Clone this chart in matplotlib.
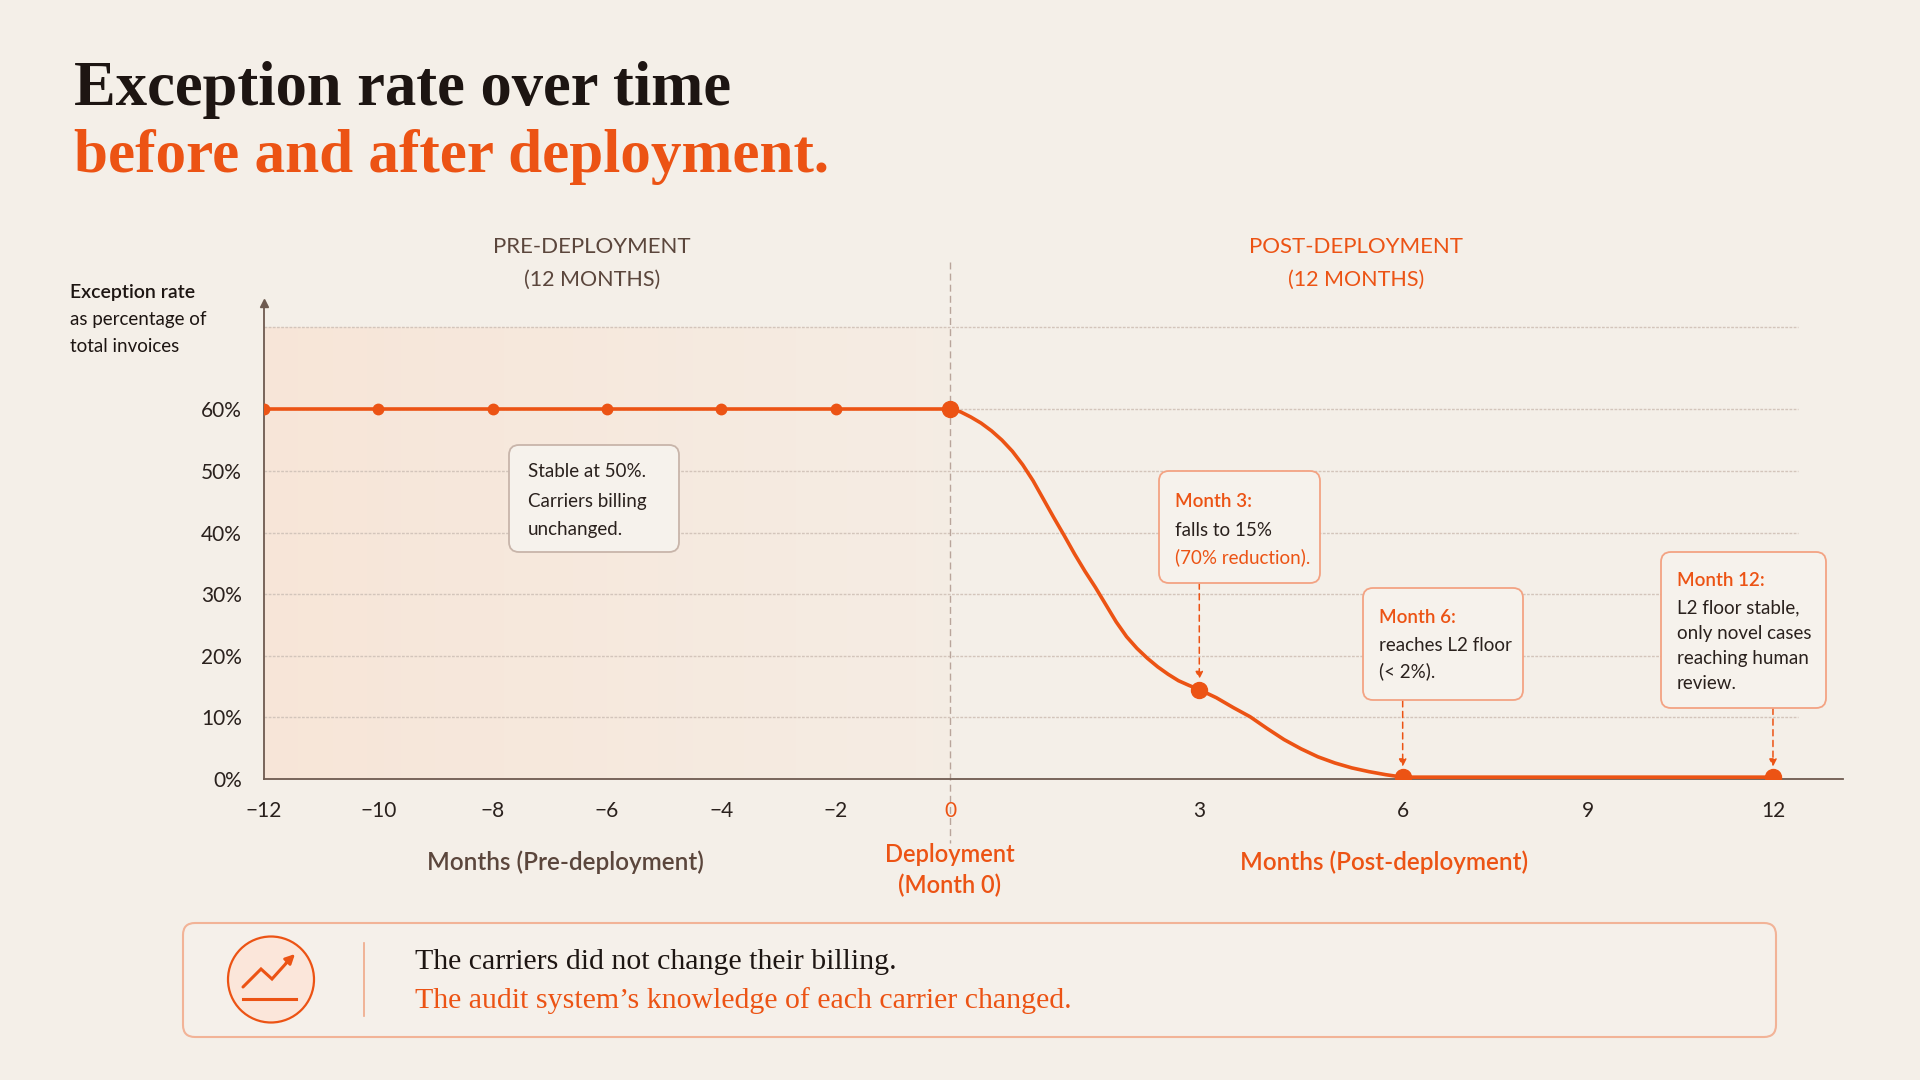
import numpy as np
import matplotlib
matplotlib.use('Agg')
import matplotlib.pyplot as plt
from matplotlib.patches import FancyBboxPatch, Circle

# data
PRE_MONTHS = [-12, -10, -8, -6, -4, -2, 0]
PRE_RATE = [60, 60, 60, 60, 60, 60, 60]

POST_MONTHS = [0, 0.125, 0.25, 0.375, 0.5, 0.625, 0.75, 0.875, 1.0, 1.125, 1.25, 1.375,
               1.5, 1.625, 1.75, 1.875, 2.0, 2.125, 2.25, 2.375, 2.5, 2.625, 2.75, 2.875,
               3.0, 3.125, 3.25, 3.375, 3.5, 3.625, 3.75, 3.875, 4.0, 4.25, 4.5, 4.75,
               5.0, 5.25, 5.5, 5.75, 6.0, 9.0, 12.0]
POST_RATE = [60, 59.6, 58.75, 57.75, 56.5, 55.0, 53.2, 51.0, 48.4, 45.4, 42.4, 39.5,
             36.5, 33.7, 31.1, 28.3, 25.5, 23.1, 21.2, 19.6, 18.2, 17.0, 15.95, 15.2,
             14.5, 13.85, 13.2, 12.4, 11.6, 10.85, 10.1, 9.15, 8.2, 6.4, 4.9, 3.6,
             2.6, 1.8, 1.2, 0.7, 0.3, 0.3, 0.3]

KEY_MONTHS = [0, 3, 6, 12]
KEY_RATE = [60, 14.5, 0.3, 0.3]

X_TICKS = [-12, -10, -8, -6, -4, -2, 0, 3, 6, 9, 12]
X_TICK_LABELS = ['\u221212', '\u221210', '\u22128', '\u22126', '\u22124', '\u22122',
                 '0', '3', '6', '9', '12']
Y_TICKS = [0, 10, 20, 30, 40, 50, 60]
Y_TICK_LABELS = ['0%', '10%', '20%', '30%', '40%', '50%', '60%']
GRID_LEVELS = [10, 20, 30, 40, 50, 60, 73.3]

# colours
BG = '#f4efe8'
ORANGE = '#ec5314'
DARK = '#1d1512'
TEXT = '#2a211d'
BROWN = '#5b463c'
AXIS = '#6e5a50'
GRID = '#d3c5bb'
TINT = '#fcd9c2'

SANS = 'Lato'
SERIF = 'Liberation Serif'

# piecewise month scale: post-deployment months get more room early on
SCALE_M = [-40, -12, 0, 3, 6, 12, 40]
SCALE_P = [-1336.8, 264, 950, 1199.3, 1402.7, 1773, 3502]


def fwd(x):
    return np.interp(x, SCALE_M, SCALE_P)


def inv(p):
    return np.interp(p, SCALE_P, SCALE_M)


fig = plt.figure(figsize=(19.2, 10.8), dpi=100)
fig.patch.set_facecolor(BG)

ax = fig.add_axes([264 / 1920, 1 - 779 / 1080, 1579 / 1920, 476 / 1080])
ax.set_facecolor('none')
ax.set_xscale('function', functions=(fwd, inv))
ax.set_xlim(-12, 13.134)
ax.set_ylim(0, 77.25)

# pre-deployment tint, fading towards month 0
n = 40
edges = np.linspace(-12, 0, n + 1)
for i in range(n):
    a = 0.42 - 0.3 * i / (n - 1)
    ax.fill_between([edges[i], edges[i + 1]], 0, GRID_LEVELS[-1], color=TINT,
                    alpha=a, lw=0, antialiased=False, zorder=0)

ax.hlines(GRID_LEVELS, -12, 12.405, color=GRID, lw=1.0, linestyle=(0, (2, 1)), zorder=1)

# deployment divider
ax.plot([0, 0], [83.95, -10.4], color='#b9a59b', lw=1.0, linestyle=(0, (5, 3)),
        clip_on=False, zorder=1)

ax.plot(PRE_MONTHS, PRE_RATE, color=ORANGE, lw=2.6, marker='o', markersize=7.5,
        solid_capstyle='round', zorder=4)
ax.plot(POST_MONTHS, POST_RATE, color=ORANGE, lw=2.6, solid_joinstyle='round',
        solid_capstyle='round', zorder=4)
ax.plot(KEY_MONTHS, KEY_RATE, 'o', color=ORANGE, markersize=11.5, zorder=5)

# dashed pointers from callouts
for m, r, top in [(3, 14.5, 31.8), (6, 0.3, 12.7), (12, 0.3, 11.47)]:
    ax.annotate('', xy=(m, r), xytext=(m, top),
                arrowprops=dict(arrowstyle='-|>', mutation_scale=11, color=ORANGE,
                                lw=1.1, linestyle=(0, (4, 3)), shrinkA=0, shrinkB=7.5),
                zorder=3)

for s in ['top', 'right']:
    ax.spines[s].set_visible(False)
for s in ['left', 'bottom']:
    ax.spines[s].set_color(AXIS)
    ax.spines[s].set_linewidth(1.3)
ax.plot([0], [1], marker='^', markersize=6, color=AXIS, transform=ax.transAxes,
        clip_on=False)

ax.set_xticks(X_TICKS, X_TICK_LABELS)
ax.set_yticks(Y_TICKS, Y_TICK_LABELS)
ax.xaxis.set_minor_locator(matplotlib.ticker.NullLocator())
ax.tick_params(axis='both', length=0, labelsize=15, labelcolor=TEXT)
ax.tick_params(axis='x', pad=16)
ax.tick_params(axis='y', pad=16)
for lab in ax.get_xticklabels() + ax.get_yticklabels():
    lab.set_fontfamily(SANS)
ax.get_xticklabels()[X_TICKS.index(0)].set_color(ORANGE)

# overlay in pixel units for titles, callouts and footer
ov = fig.add_axes([0, 0, 1, 1], zorder=10)
ov.set_xlim(0, 1920)
ov.set_ylim(1080, 0)
ov.axis('off')
ov.set_facecolor('none')

ov.text(74, 105, 'Exception rate over time', fontsize=45, family=SERIF,
        weight='bold', color=DARK, va='baseline')
ov.text(74, 172, 'before and after deployment.', fontsize=44, family=SERIF,
        weight='bold', color=ORANGE, va='baseline')

ov.text(70, 298, 'Exception rate', fontsize=14, family=SANS, weight='semibold',
        color=DARK, va='baseline')
ov.text(70, 325, 'as percentage of', fontsize=13.5, family=SANS, color=DARK, va='baseline')
ov.text(70, 352, 'total invoices', fontsize=13.5, family=SANS, color=DARK, va='baseline')

ov.text(592, 247, 'PRE-DEPLOYMENT', fontsize=16, family=SANS, color=BROWN,
        ha='center', va='center')
ov.text(592, 280, '(12 MONTHS)', fontsize=15.5, family=SANS, color=BROWN,
        ha='center', va='center')
ov.text(1356, 247, 'POST-DEPLOYMENT', fontsize=16, family=SANS, color=ORANGE,
        ha='center', va='center')
ov.text(1356, 280, '(12 MONTHS)', fontsize=15.5, family=SANS, color=ORANGE,
        ha='center', va='center')

ov.text(565, 862, 'Months (Pre-deployment)', fontsize=17.5, family=SANS,
        weight='semibold', color=BROWN, ha='center', va='center')
ov.text(950, 854, 'Deployment', fontsize=17, family=SANS, weight='semibold',
        color=ORANGE, ha='center', va='center')
ov.text(950, 885, '(Month 0)', fontsize=17, family=SANS, weight='semibold',
        color=ORANGE, ha='center', va='center')
ov.text(1384, 862, 'Months (Post-deployment)', fontsize=17.5, family=SANS,
        weight='semibold', color=ORANGE, ha='center', va='center')


def callout(x, y, w, h, lines, edge):
    ov.add_patch(FancyBboxPatch((x, y), w, h, boxstyle='round,pad=0,rounding_size=10',
                                facecolor='#f6f2ec', edgecolor=edge, lw=1.3, zorder=2))
    for tx, ty, s, c, wt in lines:
        ov.text(tx, ty, s, fontsize=13.5, family=SANS, color=c, weight=wt,
                va='baseline', zorder=3)


callout(509, 445, 170, 107, [
    (528, 477, 'Stable at 50%.', TEXT, 'normal'),
    (528, 507, 'Carriers billing', TEXT, 'normal'),
    (528, 535, 'unchanged.', TEXT, 'normal')], '#c8b5aa')
callout(1159, 471, 161, 112, [
    (1175, 507, 'Month 3:', ORANGE, 'semibold'),
    (1175, 536, 'falls to 15%', TEXT, 'normal'),
    (1175, 563, '(70% reduction).', ORANGE, 'normal')], '#f3a383')
callout(1363, 588, 160, 112, [
    (1379, 623, 'Month 6:', ORANGE, 'semibold'),
    (1379, 651, 'reaches L2 floor', TEXT, 'normal'),
    (1379, 677, '(< 2%).', TEXT, 'normal')], '#f3a383')
callout(1661, 552, 165, 156, [
    (1677, 586, 'Month 12:', ORANGE, 'semibold'),
    (1677, 613, 'L2 floor stable,', TEXT, 'normal'),
    (1677, 639, 'only novel cases', TEXT, 'normal'),
    (1677, 664, 'reaching human', TEXT, 'normal'),
    (1677, 689, 'review.', TEXT, 'normal')], '#f3a383')

# footer
ov.add_patch(FancyBboxPatch((183, 923), 1593, 114, boxstyle='round,pad=0,rounding_size=12',
                            facecolor='#f5f0ea', edgecolor='#f2b397', lw=1.5))
ov.add_patch(Circle((271, 979.5), 43, facecolor='#fbe6da', edgecolor=ORANGE, lw=1.6))
ov.plot([243, 261, 272, 290], [987, 969, 979, 959], color=ORANGE, lw=2.2,
        solid_capstyle='round', solid_joinstyle='miter')
ov.annotate('', xy=(295, 954), xytext=(286, 963),
            arrowprops=dict(arrowstyle='-|>', mutation_scale=14, color=ORANGE, lw=2,
                            shrinkA=0, shrinkB=0))
ov.plot([243, 296], [999, 999], color=ORANGE, lw=2.2)
ov.plot([364, 364], [943, 1016], color='#f0a888', lw=1.2)

ov.text(415, 969, 'The carriers did not change their billing.', fontsize=21.5,
        family=SERIF, color=DARK, va='baseline')
ov.text(415, 1008, 'The audit system\u2019s knowledge of each carrier changed.',
        fontsize=21.5, family=SERIF, color=ORANGE, va='baseline')

fig.savefig('out.png', dpi=100, facecolor=BG)
